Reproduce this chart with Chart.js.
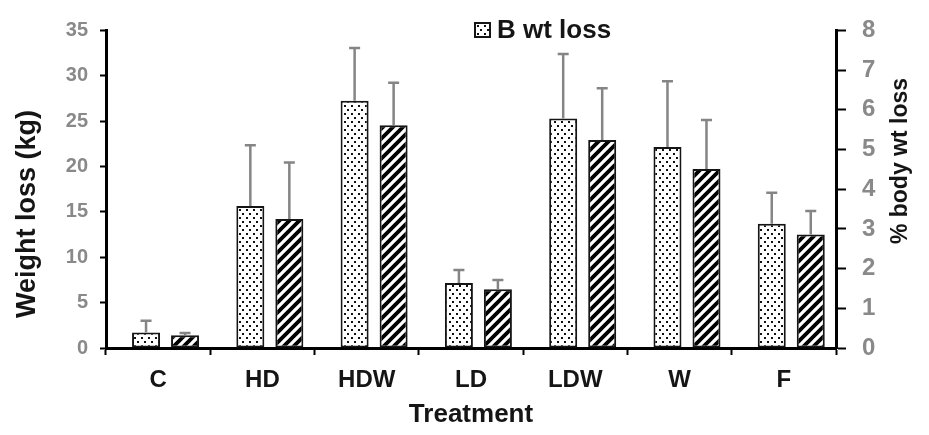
<!DOCTYPE html>
<html>
<head>
<meta charset="utf-8">
<script src="https://cdn.jsdelivr.net/npm/chart.js@4.4.1/dist/chart.umd.min.js"></script>
<style>
  body { margin: 0; background: #fff; }
  canvas { display: block; }
</style>
</head>
<body>
<canvas id="chart" width="929" height="435"></canvas>
<script>
// Data
const categories = ["C", "HD", "HDW", "LD", "LDW", "W", "F"];
const wtLossKg = [1.7, 15.65, 27.25, 7.15, 25.3, 22.15, 13.7];
const wtLossKgErr = [1.3, 6.7, 5.8, 1.45, 7.1, 7.25, 3.4];
const pctLoss = [0.32, 3.25, 5.61, 1.48, 5.24, 4.51, 2.86];
const pctLossErr = [0.06, 1.42, 1.07, 0.23, 1.3, 1.23, 0.59];
const kgTicks = { min: 0, max: 35, step: 5 };
const pctTicks = { min: 0, max: 8, step: 1 };

const FONT = "'Liberation Sans', Arial, sans-serif";
const TICK_GREY = "#898989";
const INK = "#151515";

// fill patterns
function dotPattern() {
  const c = document.createElement("canvas");
  c.width = 7; c.height = 8;
  const g = c.getContext("2d");
  g.fillStyle = "#fff";
  g.fillRect(0, 0, 7, 8);
  g.fillStyle = "#111";
  g.fillRect(1, 1, 2, 2);
  g.fillRect(4, 5, 2, 2);
  return g.createPattern(c, "repeat");
}

function hatchPattern() {
  const c = document.createElement("canvas");
  c.width = 10; c.height = 10;
  const g = c.getContext("2d");
  g.fillStyle = "#fff";
  g.fillRect(0, 0, 10, 10);
  g.strokeStyle = "#000";
  g.lineWidth = 3.8;
  g.beginPath();
  g.moveTo(-2, 12); g.lineTo(12, -2);
  g.moveTo(-2, 2); g.lineTo(2, -2);
  g.moveTo(8, 12); g.lineTo(12, 8);
  g.stroke();
  return g.createPattern(c, "repeat");
}

const dots = dotPattern();
const hatch = hatchPattern();

// the bar pairs sit a little right of each category centre
const barShift = 0.071;

// error bars (upper only)
const errorBars = {
  id: "errorBars",
  afterDatasetsDraw(chart) {
    const ctx = chart.ctx;
    ctx.save();
    ctx.strokeStyle = "#858585";
    ctx.lineWidth = 2.5;
    chart.data.datasets.forEach((ds, di) => {
      const meta = chart.getDatasetMeta(di);
      const yScale = chart.scales[ds.yAxisID];
      meta.data.forEach((bar, i) => {
        const top = yScale.getPixelForValue(ds.data[i].y + ds.errors[i]);
        ctx.beginPath();
        ctx.moveTo(bar.x, bar.y);
        ctx.lineTo(bar.x, top);
        ctx.moveTo(bar.x - 5.5, top);
        ctx.lineTo(bar.x + 5.5, top);
        ctx.stroke();
      });
    });
    ctx.restore();
  }
};

// y titles and the single legend entry
const extras = {
  id: "extras",
  afterDraw(chart) {
    const ctx = chart.ctx;
    ctx.save();
    ctx.fillStyle = INK;
    ctx.textAlign = "center";
    ctx.textBaseline = "middle";

    ctx.save();
    ctx.translate(28, 214);
    ctx.rotate(-Math.PI / 2);
    ctx.font = "bold 27px " + FONT;
    ctx.fillText("Weight loss (kg)", 0, 0);
    ctx.restore();

    ctx.save();
    ctx.translate(901, 161);
    ctx.rotate(-Math.PI / 2);
    ctx.font = "bold 23px " + FONT;
    ctx.fillText("% body wt loss", 0, 0);
    ctx.restore();

    const ds = chart.data.datasets[0];
    ctx.fillStyle = ds.backgroundColor;
    ctx.fillRect(475, 23, 15, 14);
    ctx.strokeStyle = INK;
    ctx.lineWidth = 2;
    ctx.strokeRect(475, 23, 15, 14);
    ctx.fillStyle = INK;
    ctx.textAlign = "left";
    ctx.font = "bold 26px " + FONT;
    ctx.fillText(ds.label, 497, 31);
    ctx.restore();
  }
};

new Chart(document.getElementById("chart"), {
  type: "bar",
  data: {
    datasets: [
      {
        label: "B wt loss",
        data: wtLossKg.map((v, i) => ({ x: i, y: v })),
        errors: wtLossKgErr,
        backgroundColor: dots,
        borderColor: INK,
        borderWidth: 2,
        borderSkipped: false,
        xAxisID: "xb",
        yAxisID: "y"
      },
      {
        label: "% body wt loss",
        data: pctLoss.map((v, i) => ({ x: i, y: v })),
        errors: pctLossErr,
        backgroundColor: hatch,
        borderColor: INK,
        borderWidth: 2,
        borderSkipped: false,
        xAxisID: "xb",
        yAxisID: "y2"
      }
    ]
  },
  options: {
    responsive: false,
    animation: false,
    categoryPercentage: 0.748,
    barPercentage: 0.718,
    layout: { padding: { top: 21, left: 0, right: 0, bottom: 0 } },
    plugins: {
      legend: { display: false },
      tooltip: { enabled: false }
    },
    scales: {
      x: {
        type: "category",
        labels: categories,
        position: "bottom",
        offset: true,
        grid: {
          offset: true,
          drawOnChartArea: false,
          drawTicks: true,
          tickLength: 7,
          tickWidth: 2,
          tickColor: "#000"
        },
        border: { display: true, color: "#000", width: 3 },
        ticks: {
          color: INK,
          font: { family: FONT, size: 24, weight: "bold" },
          padding: 11,
          maxRotation: 0
        },
        title: {
          display: true,
          text: "Treatment",
          color: INK,
          font: { family: FONT, size: 26, weight: "bold" },
          padding: { top: 0, bottom: 5 }
        },
        afterFit: s => { s.height = 87; }
      },
      xb: {
        type: "linear",
        display: false,
        offset: false,
        min: -0.5 - barShift,
        max: categories.length - 0.5 - barShift
      },
      y: {
        position: "left",
        min: kgTicks.min,
        max: kgTicks.max,
        ticks: {
          stepSize: kgTicks.step,
          color: TICK_GREY,
          font: { family: FONT, size: 20, weight: "bold" },
          padding: 12
        },
        grid: {
          drawOnChartArea: false,
          tickLength: 6,
          tickWidth: 2,
          tickColor: "#000"
        },
        border: { display: true, color: "#000", width: 3 },
        afterFit: s => { s.width = 106; }
      },
      y2: {
        position: "right",
        min: pctTicks.min,
        max: pctTicks.max,
        ticks: {
          stepSize: pctTicks.step,
          color: TICK_GREY,
          font: { family: FONT, size: 24, weight: "bold" },
          padding: 16
        },
        grid: {
          drawOnChartArea: false,
          tickLength: 10,
          tickWidth: 2,
          tickColor: "#000"
        },
        border: { display: true, color: "#000", width: 3 },
        afterFit: s => { s.width = 93; }
      }
    }
  },
  plugins: [errorBars, extras]
});
</script>
</body>
</html>
